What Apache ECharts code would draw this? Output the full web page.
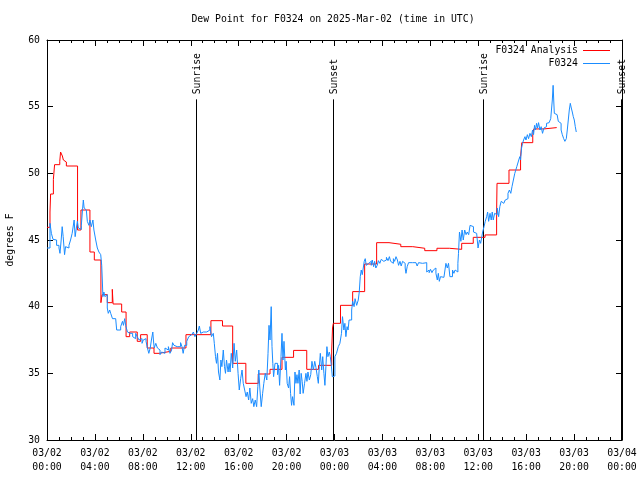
<!DOCTYPE html>
<html><head><meta charset="utf-8">
<script src="https://cdn.jsdelivr.net/npm/echarts/dist/echarts.min.js"></script>
<style>html,body{margin:0;padding:0;background:#fff}#c{width:640px;height:480px}</style>
</head><body><div id="c"></div>
<script>
// time values are minutes after 2025-03-02 00:00 UTC
const chartTitle = 'Dew Point for F0324 on 2025-Mar-02 (time in UTC)';
const yAxisTitle = 'degrees F';
const xTickLabels = ['03/02\n00:00','03/02\n04:00','03/02\n08:00','03/02\n12:00','03/02\n16:00','03/02\n20:00',
  '03/03\n00:00','03/03\n04:00','03/03\n08:00','03/03\n12:00','03/03\n16:00','03/03\n20:00','03/04\n00:00'];
const seriesNames = ['F0324 Analysis', 'F0324'];

const analysisMin = [0,15,18,32,38,64,68,77,82,88,97,153,170,215,237,270,276,302,327,331,374,396,414,452,469,502,536,561,620,696,821,879,930,996,1058,1117,1177,1235,1301,1360,1426,1430,1434,1470,1531,1591,1651,1713,1772,1832,1892,1953,2015,2077,2135,2194,2252,2254,2314,2372,2378,2433,2438,2489,2553];
const analysisVal = [45.95,47.1,48.45,49.55,50.65,50.9,51.6,51.3,51.0,50.85,50.55,45.75,47.25,44.1,43.5,40.3,40.9,40.3,41.3,40.2,39.6,37.75,38.1,37.4,37.9,36.9,36.5,36.65,36.9,37.9,38.95,38.55,35.75,34.25,34.95,35.3,36.2,36.72,35.3,35.6,36.75,38.4,38.75,40.1,41.13,43.2,44.8,44.68,44.5,44.38,44.2,44.38,44.3,44.75,45.2,45.38,47.1,49.25,50.25,51.25,52.3,52.9,53.33,53.43,53.43];

const obsDay1Morning = [[0,44.4],[15,46.25],[22,45.5],[30,45.05],[40,45.0],[48,44.6],[60,44.4],[65,44.0],[71,45.0],[76,46.0],[81,45.25],[88,43.9],[93,44.5],[101,44.4],[110,44.6],[118,45.0],[126,45.5],[136,46.5],[141,45.25],[147,45.9],[152,46.4],[157,45.9],[166,45.8],[172,46.1],[177,47.1],[182,48.0],[186,47.4],[190,47.25],[197,47.1],[202,46.4],[210,46.1],[215,46.5],[222,46.0],[230,46.5],[235,45.75],[244,45.0],[252,44.4],[260,44.1],[269,43.9],[274,43.1],[277,42.0],[280,40.75],[285,41.1],[290,40.75],[295,40.9],[302,39.9],[307,39.5],[314,39.75],[319,39.5],[328,39.1],[336,39.1],[344,39.0],[349,38.25],[359,38.25],[369,38.5],[378,38.9],[383,38.6],[389,39.1],[394,38.6],[403,38.1],[409,38.0],[416,38.1],[423,38.0],[429,37.75],[436,37.6],[444,38.0],[452,37.75],[461,37.5],[469,37.6],[476,37.25],[482,37.5],[491,37.6],[496,37.4],[503,36.9],[510,36.5],[517,36.9],[523,37.5],[530,38.1],[533,37.5],[537,36.9],[545,37.25],[553,36.9],[561,36.75]];
const obsDay1Afternoon = [[566,36.4],[574,36.6],[583,36.5],[591,36.9],[599,36.75],[608,37.0],[616,36.5],[624,36.75],[629,37.3],[636,37.1],[644,37.0],[652,36.95],[661,37.0],[669,37.3],[676,37.0],[682,36.5],[689,37.1],[700,37.4],[710,37.75],[717,37.9],[725,38.0],[733,38.1],[741,37.75],[750,38.0],[758,38.25],[763,38.55],[770,38.0],[776,38.1],[783,38.0],[791,38.1],[800,38.0],[808,38.25],[816,38.5],[824,37.75],[833,38.0],[838,37.25],[844,36.25],[849,35.75],[854,36.5],[859,35.1],[866,34.5],[871,36.0],[876,35.5],[883,36.75],[889,35.5],[894,35.0],[899,36.0],[907,35.1],[912,35.75],[917,35.1],[923,36.5],[930,35.4],[937,37.25],[943,35.9],[950,36.75],[957,35.0],[963,33.75],[970,34.6],[977,35.25],[983,34.25],[990,33.75],[997,33.25],[1003,33.6],[1010,33.0],[1016,33.9],[1023,32.75],[1030,33.1],[1036,32.5],[1043,33.0],[1050,32.5],[1056,34.0],[1061,35.25],[1066,33.9],[1073,32.5],[1080,33.5],[1086,34.25],[1093,35.0],[1101,34.5],[1107,36.5],[1112,38.6],[1117,37.5],[1123,40.0],[1127,37.0],[1131,35.75],[1135,34.75],[1142,35.75]];
const obsDay1Evening = [[1155,34.9],[1160,35.6],[1165,34.1],[1172,36.25],[1177,38.0],[1182,36.0],[1187,37.4],[1194,35.25],[1198,35.9],[1203,34.25],[1210,33.9],[1215,34.75],[1220,33.5],[1225,32.6],[1230,33.25],[1237,32.6],[1242,35.1],[1247,34.25],[1252,34.9],[1257,34.25],[1263,35.25],[1268,33.45],[1273,35.0],[1278,34.4],[1283,33.5],[1290,34.25],[1297,35.0],[1302,34.4],[1307,35.1],[1314,34.5],[1321,34.9],[1327,35.9],[1334,35.25],[1341,35.9],[1347,35.45],[1354,34.75],[1359,34.25],[1364,35.5],[1369,36.5],[1376,35.25],[1381,36.25],[1387,35.0],[1392,34.1],[1397,35.5],[1402,37.0],[1407,36.25],[1414,36.6],[1419,36.25],[1424,35.6],[1429,34.75]];
const obsDay2Night = [[1434,34.8],[1442,36.25],[1450,36.5],[1459,37.0],[1467,37.25],[1475,38.0],[1480,39.25],[1487,38.25],[1492,38.75],[1497,37.75],[1503,38.5],[1508,38.25],[1513,39.0],[1521,39.0],[1526,39.75],[1531,40.4],[1538,40.0],[1543,40.6],[1551,40.1],[1559,40.5],[1564,41.1],[1569,42.25],[1574,42.75],[1579,42.4],[1584,42.9],[1589,43.4],[1594,43.6],[1599,43.1],[1604,43.25],[1611,43.1],[1617,43.4],[1624,43.1],[1629,43.5],[1636,43.0],[1641,43.4],[1647,42.9],[1654,43.1],[1660,43.45],[1667,43.25],[1674,43.55],[1680,43.4],[1687,43.25],[1694,43.5],[1700,43.7],[1708,43.45],[1715,43.75],[1721,43.4],[1728,43.25],[1735,43.6],[1741,43.4],[1748,43.75],[1755,43.5],[1761,43.1],[1768,43.4],[1774,43.05],[1781,43.4],[1788,43.25],[1794,42.9],[1798,42.5],[1804,43.0],[1811,43.3],[1821,43.3],[1831,43.25],[1838,43.3],[1848,43.25],[1854,43.05],[1861,43.3],[1871,43.25],[1881,43.3],[1891,43.3],[1902,42.6],[1907,42.75],[1914,42.55],[1921,42.8],[1928,42.55],[1935,42.75],[1942,42.9],[1948,42.5],[1955,42.0],[1960,42.5],[1965,41.9],[1971,42.25],[1978,42.2],[1988,42.2],[1995,42.25],[1998,43.25],[2005,42.9],[2011,43.25],[2018,42.25],[2031,42.75],[2038,42.5],[2044,42.75],[2051,42.6],[2058,43.25]];
const obsDay2Day = [[2061,44.0],[2066,45.6],[2073,44.9],[2079,45.75],[2085,45.0],[2092,45.75],[2099,45.4],[2105,45.6],[2112,45.4],[2119,46.1],[2127,46.0],[2136,45.6],[2144,45.5],[2152,45.4],[2159,44.4],[2166,45.0],[2172,44.75],[2182,45.6],[2189,46.0],[2195,46.4],[2202,46.75],[2207,47.1],[2212,46.4],[2219,47.0],[2225,46.5],[2230,47.1],[2235,46.5],[2242,47.0],[2249,46.9],[2255,47.4],[2262,46.75],[2268,47.5],[2275,47.9],[2282,47.75],[2288,47.6],[2295,48.0],[2302,48.1],[2309,48.5],[2316,48.75],[2323,48.5],[2329,49.0],[2336,49.5],[2343,50.0],[2348,49.9],[2353,50.5],[2358,50.6],[2363,51.0],[2368,51.25],[2372,51.0],[2377,51.9],[2382,52.25],[2387,52.5],[2394,52.75],[2399,52.5],[2406,52.9],[2412,52.6],[2419,53.0],[2426,52.75],[2432,53.25],[2437,52.9],[2442,53.6],[2447,53.25],[2452,53.75],[2457,53.4],[2462,53.8],[2469,53.25],[2475,53.5],[2482,53.0],[2489,53.4],[2495,53.5],[2502,53.75],[2509,53.8],[2515,53.75],[2523,54.1],[2528,54.0],[2531,55.5],[2535,56.6],[2538,55.5],[2541,54.5],[2548,54.4],[2555,54.25],[2561,53.9],[2568,53.75],[2575,53.25],[2581,52.9],[2588,52.6],[2594,52.4],[2601,52.6],[2606,53.25],[2611,54.0],[2616,54.75],[2621,55.25],[2626,54.9],[2631,54.6],[2636,54.25],[2641,54.0],[2646,53.5],[2651,53.1]];

const sunEventMin = [748, 1434, 2185, 2876];
const sunEventText = ['Sunrise', 'Sunset', 'Sunrise', 'Sunset'];
const sunLineTop = 55.55;

const FONT = '"DejaVu Sans Mono", "Liberation Mono", monospace';
const FS = 9.8;

const analysisData = analysisMin.map((m, i) => [m, analysisVal[i]]);
const obsData = [].concat(obsDay1Morning, obsDay1Afternoon, obsDay1Evening, obsDay2Night, obsDay2Day);

const chart = echarts.init(document.getElementById('c'), null, {renderer: 'canvas'});
const baseX = {
  type: 'value', min: 0, max: 2880, interval: 240,
  axisLine: {show: true, onZero: false, lineStyle: {color: '#000', width: 1}},
  axisTick: {show: true, inside: true, length: 6, lineStyle: {color: '#000'}},
  minorTick: {show: true, splitNumber: 4, length: 3, lineStyle: {color: '#000'}},
  splitLine: {show: false}, minorSplitLine: {show: false}
};
const baseY = {
  type: 'value', min: 30, max: 60, interval: 5,
  axisLine: {show: true, onZero: false, lineStyle: {color: '#000', width: 1}},
  axisTick: {show: true, inside: true, length: 6, lineStyle: {color: '#000'}},
  splitLine: {show: false}
};
chart.setOption({
  animation: false,
  backgroundColor: '#fff',
  graphic: [{type: 'text', x: 333, y: 14, style: {text: chartTitle, font: FS + 'px ' + FONT, fill: '#000', align: 'center', verticalAlign: 'top'}}],
  grid: {left: 47, right: 18, top: 40, bottom: 40, containLabel: false, outerBoundsMode: 'none'},
  legend: {
    data: seriesNames, orient: 'vertical', right: 25, top: 39, align: 'right',
    icon: 'rect', itemWidth: 27, itemHeight: 1, itemGap: 0,
    textStyle: {fontFamily: FONT, fontSize: FS, color: '#000', lineHeight: 13}
  },
  xAxis: [
    Object.assign({}, baseX, {position: 'bottom',
      axisLabel: {show: true, margin: 6, fontFamily: FONT, fontSize: FS, color: '#000', lineHeight: 14,
        formatter: v => xTickLabels[Math.round(v / 240)]}}),
    Object.assign({}, baseX, {position: 'top', axisLabel: {show: false}})
  ],
  yAxis: [
    Object.assign({}, baseY, {position: 'left', name: yAxisTitle, nameLocation: 'middle', nameGap: 32, nameRotate: 90,
      nameTextStyle: {fontFamily: FONT, fontSize: FS, color: '#000'},
      axisLabel: {show: true, margin: 7, fontFamily: FONT, fontSize: FS, color: '#000'}}),
    Object.assign({}, baseY, {position: 'right', axisLabel: {show: false}})
  ],
  series: [
    {
      name: seriesNames[0], type: 'line', step: 'end', data: analysisData,
      xAxisIndex: 0, yAxisIndex: 0, showSymbol: false, symbol: 'none',
      lineStyle: {color: '#ff0000', width: 1}, itemStyle: {color: '#ff0000'}
    },
    {
      name: seriesNames[1], type: 'line', step: 'end', data: obsData,
      xAxisIndex: 0, yAxisIndex: 0, showSymbol: false, symbol: 'none',
      lineStyle: {color: '#1a8cff', width: 1}, itemStyle: {color: '#1a8cff'}
    },
    {
      type: 'custom', xAxisIndex: 0, yAxisIndex: 0, silent: true,
      data: sunEventMin.map(m => [m, sunLineTop]),
      renderItem: function (params, api) {
        const p0 = api.coord([api.value(0), 30]);
        const p1 = api.coord([api.value(0), api.value(1)]);
        const x = Math.round(p0[0]) + 0.5;
        return {type: 'group', children: [
          {type: 'line', shape: {x1: x, y1: p0[1], x2: x, y2: p1[1]}, style: {stroke: '#000', lineWidth: 1}},
          {type: 'text', x: x + 0.5, y: p1[1] - 5, rotation: Math.PI / 2,
            style: {text: sunEventText[params.dataIndex], font: FS + 'px ' + FONT, fill: '#000',
              align: 'left', verticalAlign: 'middle', textAlign: 'left', textVerticalAlign: 'middle'}}
        ]};
      }
    }
  ]
});
</script></body></html>
